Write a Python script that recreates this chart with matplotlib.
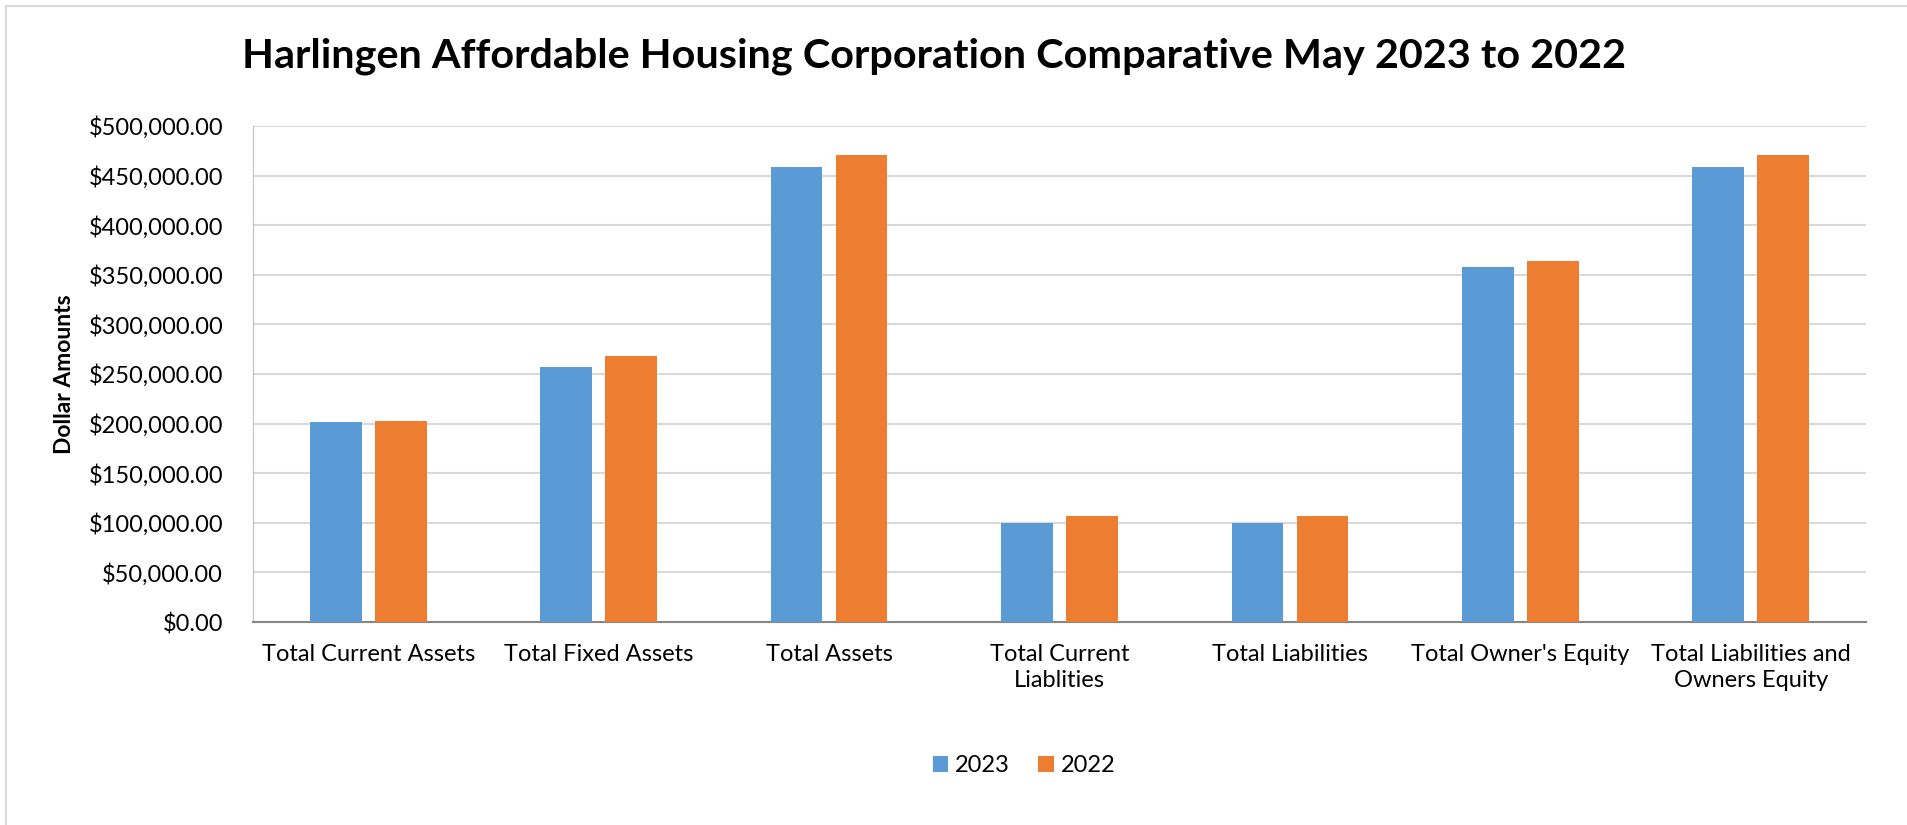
import matplotlib
matplotlib.use('Agg')
import matplotlib.pyplot as plt
import numpy as np
from matplotlib.ticker import FuncFormatter
from matplotlib.patches import Rectangle

# donnees
categories = ["Total Current Assets", "Total Fixed Assets", "Total Assets",
              "Total Current\nLiablities", "Total Liabilities", "Total Owner's Equity",
              "Total Liabilities and\nOwners Equity"]
values_2023 = [201400, 256900, 458300, 100300, 100300, 358000, 458300]
values_2022 = [202800, 268400, 471200, 107300, 107300, 363500, 471200]
series_names = ["2023", "2022"]

plt.rcParams['font.family'] = ['Lato', 'DejaVu Sans']

fig = plt.figure(figsize=(19.07, 8.25), dpi=100)
ax = fig.add_axes([253 / 1907, 1 - 622 / 825, (1866 - 253) / 1907, (622 - 126) / 825])

x = np.arange(len(categories))
w = 0.224
off = 0.141
ax.bar(x - off, values_2023, w, color='#5B9BD5', label=series_names[0], zorder=3)
ax.bar(x + off, values_2022, w, color='#ED7D31', label=series_names[1], zorder=3)

ax.set_xlim(-0.5, len(categories) - 0.5)
ax.set_ylim(0, 500000)
ax.set_yticks(np.arange(0, 500001, 50000))
ax.yaxis.set_major_formatter(FuncFormatter(lambda v, p: f"${v:,.2f}"))
ax.grid(axis='y', color='#D9D9D9', linewidth=1.5, zorder=0)
ax.set_xticks(x)
ax.set_xticklabels(categories, fontsize=17, linespacing=1.3)
ax.tick_params(axis='y', labelsize=17, length=0, pad=21.5)
ax.tick_params(axis='x', length=0, pad=16)

for s in ['top', 'right']:
    ax.spines[s].set_visible(False)
ax.spines['left'].set_color('#BFBFBF')
ax.spines['bottom'].set_color('#868686')
ax.spines['bottom'].set_linewidth(1.5)

ax.set_ylabel("Dollar Amounts", fontsize=16.5, fontweight='bold')
ax.yaxis.set_label_coords((75 - 253) / 1613, 0.5)

fig.text(934 / 1907, 1 - 56 / 825, "Harlingen Affordable Housing Corporation Comparative May 2023 to 2022",
         ha='center', va='center', fontsize=29.8, fontweight='bold')

fig.legend(loc='center', bbox_to_anchor=(1024 / 1907, 1 - 766 / 825), ncol=2, frameon=False,
           fontsize=17, handlelength=0.65, handleheight=0.65, columnspacing=1.2, handletextpad=0.3)

fig.patches.append(Rectangle((6 / 1907, -0.1), 1.2, 1.1 - 6 / 825, transform=fig.transFigure,
                             fill=False, edgecolor='#D9D9D9', linewidth=1.5))

fig.savefig('out.png', dpi=100)
